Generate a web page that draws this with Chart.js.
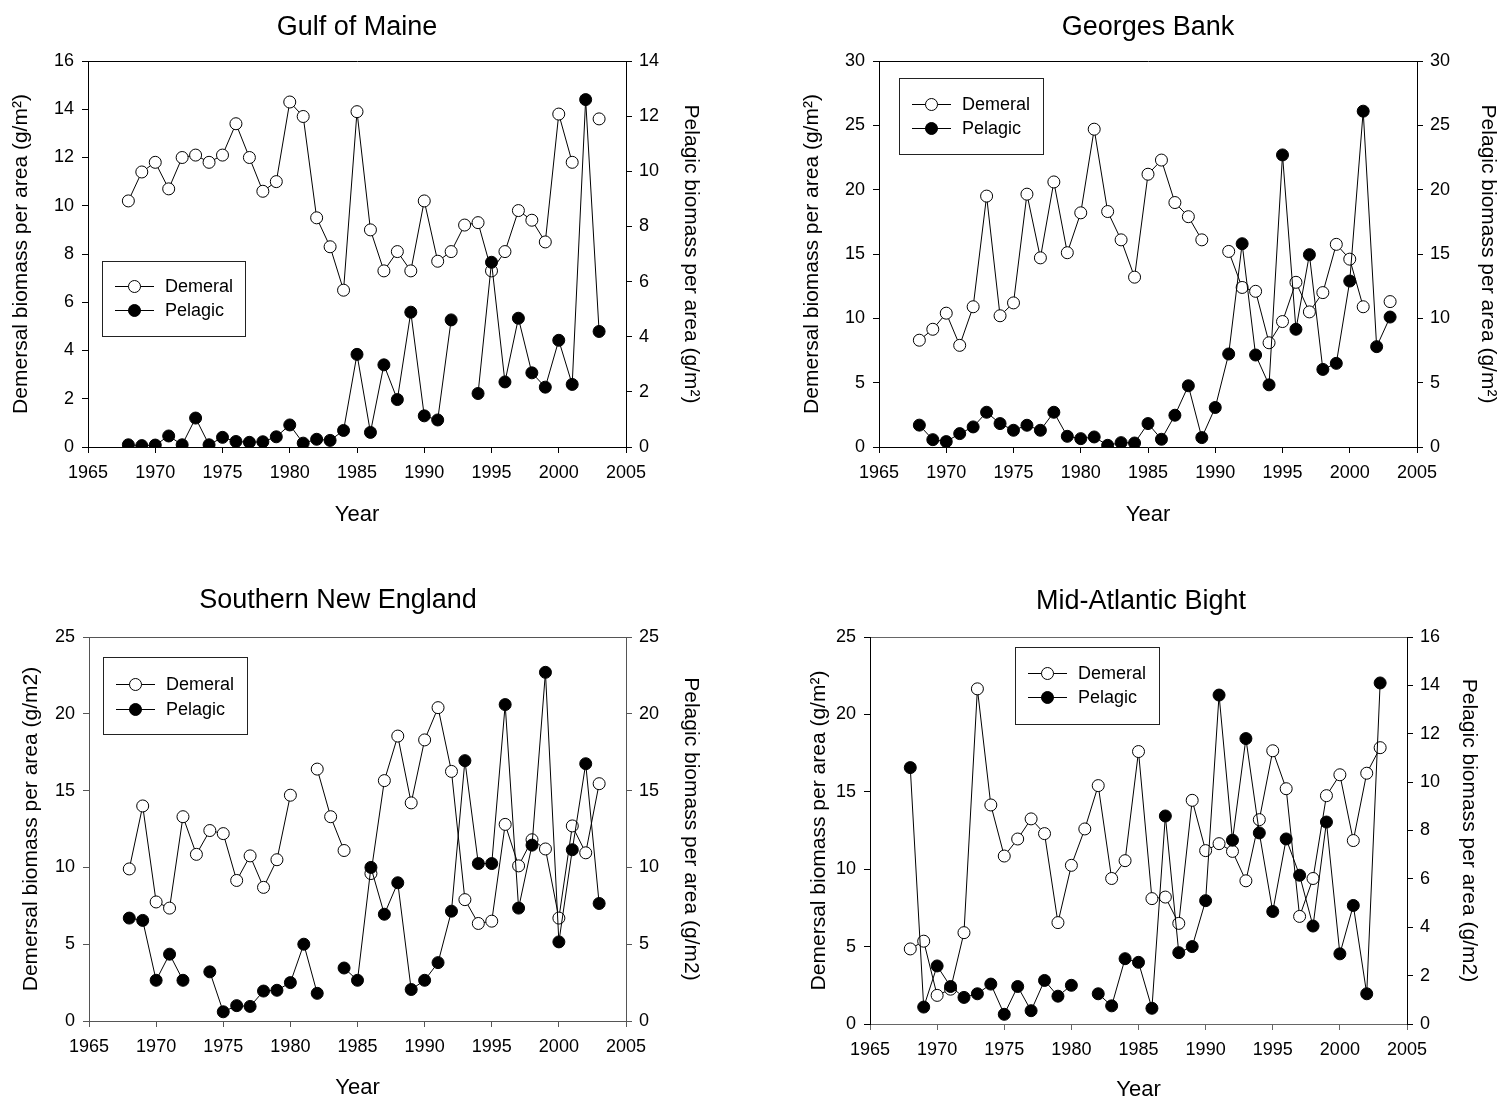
<!DOCTYPE html>
<html>
<head>
<meta charset="utf-8">
<title>Demersal and pelagic biomass</title>
<script src="https://cdn.jsdelivr.net/npm/chart.js@4.4.0/dist/chart.umd.min.js"></script>
<style>
  body { margin: 0; background: #fff; }
  #wrap { position: relative; width: 1501px; height: 1104px; overflow: hidden; }
  .panel { position: absolute; width: 750px; height: 552px; }
</style>
</head>
<body>
<div id="wrap">
  <div class="panel" style="left:0;top:0"><canvas id="gulfChart" width="750" height="552"></canvas></div>
  <div class="panel" style="left:751px;top:0"><canvas id="georgesChart" width="750" height="552"></canvas></div>
  <div class="panel" style="left:0;top:552px"><canvas id="sneChart" width="750" height="552"></canvas></div>
  <div class="panel" style="left:751px;top:552px"><canvas id="mabChart" width="750" height="552"></canvas></div>
</div>
<script>
// survey years, one value per year in every series (null = no survey point)
const years = [1968, 1969, 1970, 1971, 1972, 1973, 1974, 1975, 1976, 1977, 1978, 1979,
  1980, 1981, 1982, 1983, 1984, 1985, 1986, 1987, 1988, 1989, 1990, 1991,
  1992, 1993, 1994, 1995, 1996, 1997, 1998, 1999, 2000, 2001, 2002, 2003];

// Gulf of Maine
const gulfDemersal = [10.2, 11.4, 11.8, 10.7, 12.0, 12.1, 11.8, 12.1, 13.4, 12.0, 10.6, 11.0,
  14.3, 13.7, 9.5, 8.3, 6.5, 13.9, 9.0, 7.3, 8.1, 7.3, 10.2, 7.7,
  8.1, 9.2, 9.3, 7.3, 8.1, 9.8, 9.4, 8.5, 13.8, 11.8, null, 13.6];
const gulfPelagic = [0.08, 0.05, 0.07, 0.4, 0.08, 1.05, 0.08, 0.35, 0.2, 0.17, 0.19, 0.37,
  0.8, 0.14, 0.28, 0.24, 0.6, 3.36, 0.53, 2.98, 1.72, 4.89, 1.13, 0.98,
  4.61, null, 1.94, 6.7, 2.36, 4.67, 2.69, 2.17, 3.87, 2.27, 12.6, 4.19];

// Georges Bank
const georgesDemersal = [8.3, 9.15, 10.4, 7.9, 10.9, 19.5, 10.2, 11.2, 19.65, 14.7, 20.6, 15.1,
  18.2, 24.7, 18.3, 16.1, 13.2, 21.2, 22.3, 19.0, 17.9, 16.1, null, 15.2,
  12.4, 12.1, 8.1, 9.75, 12.8, 10.5, 12.0, 15.75, 14.6, 10.9, null, 11.3];
const georgesPelagic = [1.7, 0.57, 0.42, 1.04, 1.56, 2.7, 1.82, 1.3, 1.69, 1.3, 2.7, 0.83,
  0.65, 0.78, 0.13, 0.34, 0.31, 1.82, 0.6, 2.47, 4.76, 0.73, 3.07, 7.23,
  15.8, 7.15, 4.83, 22.7, 9.15, 14.95, 6.03, 6.5, 12.9, 26.1, 7.8, 10.1];

// Southern New England
const sneDemersal = [9.9, 14.0, 7.75, 7.35, 13.3, 10.85, 12.4, 12.2, 9.15, 10.75, 8.7, 10.5,
  14.7, null, 16.4, 13.3, 11.1, null, 9.6, 15.65, 18.55, 14.2, 18.3, 20.4,
  16.25, 7.9, 6.35, 6.5, 12.8, 10.1, 11.8, 11.2, 6.7, 12.7, 10.95, 15.45];
const snePelagic = [6.7, 6.55, 2.65, 4.35, 2.65, null, 3.2, 0.6, 1.0, 0.95, 1.95, 2.0,
  2.5, 5.0, 1.8, null, 3.45, 2.65, 10.0, 6.95, 9.0, 2.05, 2.65, 3.8,
  7.15, 16.95, 10.25, 10.25, 20.6, 7.35, 11.45, 22.7, 5.15, 11.15, 16.75, 7.65];

// Mid-Atlantic Bight
const mabDemersal = [4.85, 5.35, 1.85, 2.25, 5.9, 21.65, 14.15, 10.85, 11.95, 13.25, 12.3, 6.55,
  10.25, 12.6, 15.4, 9.4, 10.55, 17.6, 8.1, 8.2, 6.5, 14.45, 11.2, 11.65,
  11.15, 9.25, 13.2, 17.65, 15.2, 6.95, 9.4, 14.75, 16.1, 11.85, 16.2, 17.85];
const mabPelagic = [10.6, 0.7, 2.4, 1.55, 1.1, 1.25, 1.65, 0.4, 1.55, 0.55, 1.8, 1.15,
  1.6, null, 1.25, 0.75, 2.7, 2.55, 0.65, 8.6, 2.95, 3.2, 5.1, 13.6,
  7.6, 11.8, 7.9, 4.65, 7.65, 6.15, 4.05, 8.35, 2.9, 4.9, 1.25, 14.1];

const seriesLabels = ["Demeral", "Pelagic"];
const xTicks = [1965, 1970, 1975, 1980, 1985, 1990, 1995, 2000, 2005];

const FONT = "'Liberation Sans', Arial, Helvetica, sans-serif";
Chart.defaults.font.family = FONT;
Chart.defaults.color = "#000";

function toPoints(vals) {
  return years.map((yr, i) => ({ x: yr, y: vals[i] }));
}

// panel title, drawn at a fixed spot above the plot
const titlePlugin = {
  id: "panelTitle",
  afterDraw(chart, args, opts) {
    const ctx = chart.ctx;
    ctx.save();
    ctx.font = `${opts.size}px ${FONT}`;
    ctx.fillStyle = "#000";
    ctx.textAlign = "center";
    ctx.textBaseline = "middle";
    ctx.fillText(opts.text, opts.x, opts.y);
    ctx.restore();
  }
};

// boxed legend inside the plot, built from the datasets
const legendBoxPlugin = {
  id: "legendBox",
  afterDraw(chart, args, opts) {
    const ctx = chart.ctx;
    const { x, y, w, h } = opts;
    ctx.save();
    ctx.fillStyle = "#fff";
    ctx.fillRect(x, y, w, h);
    ctx.strokeStyle = "#222";
    ctx.lineWidth = 1;
    ctx.strokeRect(x + 0.5, y + 0.5, w, h);
    ctx.font = `18px ${FONT}`;
    ctx.textBaseline = "middle";
    ctx.textAlign = "left";
    chart.data.datasets.forEach((ds, i) => {
      const ry = y + opts.rows[i];
      const lx = x + 13;
      ctx.strokeStyle = ds.borderColor;
      ctx.lineWidth = 1;
      ctx.beginPath();
      ctx.moveTo(lx, ry + 0.5);
      ctx.lineTo(lx + 39, ry + 0.5);
      ctx.stroke();
      ctx.beginPath();
      ctx.arc(lx + 19.5, ry + 0.5, ds.pointRadius, 0, Math.PI * 2);
      ctx.fillStyle = ds.pointBackgroundColor;
      ctx.fill();
      ctx.strokeStyle = ds.pointBorderColor;
      ctx.stroke();
      ctx.fillStyle = "#000";
      ctx.fillText(ds.label, x + 63, ry + 1);
    });
    ctx.restore();
  }
};

const panels = [
  {
    id: "gulfChart", title: "Gulf of Maine", titleX: 357, titleY: 28,
    demersal: gulfDemersal, pelagic: gulfPelagic,
    left: 88, right: 626, top: 61, bottom: 447,
    yMax: 16, yStep: 2, y1Max: 14, y1Step: 2,
    yTitle: "Demersal biomass per area (g/m\u00B2)", y1Title: "Pelagic biomass per area (g/m\u00B2)",
    yTitlePad: 9, y1TitlePad: 47, xTitlePad: 24,
    legend: { x: 102, y: 261, w: 143, h: 75, rows: [25, 49] },
    frame: "#000", xFrame: "#000"
  },
  {
    id: "georgesChart", title: "Georges Bank", titleX: 397, titleY: 28,
    demersal: georgesDemersal, pelagic: georgesPelagic,
    left: 128, right: 666, top: 61, bottom: 447,
    yMax: 30, yStep: 5, y1Max: 30, y1Step: 5,
    yTitle: "Demersal biomass per area (g/m\u00B2)", y1Title: "Pelagic biomass per area (g/m\u00B2)",
    yTitlePad: 49, y1TitlePad: 1, xTitlePad: 24,
    legend: { x: 148, y: 78, w: 144, h: 76, rows: [26, 50] },
    frame: "#000", xFrame: "#000"
  },
  {
    id: "sneChart", title: "Southern New England", titleX: 338, titleY: 49,
    demersal: sneDemersal, pelagic: snePelagic,
    left: 89, right: 626, top: 85, bottom: 469,
    yMax: 25, yStep: 5, y1Max: 25, y1Step: 5,
    yTitle: "Demersal biomass per area (g/m2)", y1Title: "Pelagic biomass per area (g/m2)",
    yTitlePad: 19, y1TitlePad: 47, xTitlePad: 3,
    legend: { x: 103, y: 105, w: 144, h: 77, rows: [27, 52] },
    frame: "#555", xFrame: "#555"
  },
  {
    id: "mabChart", title: "Mid-Atlantic Bight", titleX: 390, titleY: 50,
    demersal: mabDemersal, pelagic: mabPelagic,
    left: 119, right: 656, top: 85, bottom: 472,
    yMax: 25, yStep: 5, y1Max: 16, y1Step: 2,
    yTitle: "Demersal biomass per area (g/m\u00B2)", y1Title: "Pelagic biomass per area (g/m2)",
    yTitlePad: 56, y1TitlePad: 20, xTitlePad: 1,
    legend: { x: 264, y: 95, w: 144, h: 77, rows: [26, 50] },
    frame: "#000", xFrame: "#666"
  }
];

function axisGrid(color) {
  return { display: true, drawOnChartArea: false, drawTicks: true, tickLength: 6, color: color, lineWidth: 1 };
}

function renderPanel(p) {
  const canvas = document.getElementById(p.id);
  const W = canvas.width;
  const H = canvas.height;
  return new Chart(canvas, {
    type: "line",
    data: {
      datasets: [
        {
          label: seriesLabels[0],
          data: toPoints(p.demersal),
          yAxisID: "y",
          order: 1,
          borderColor: "#000",
          borderWidth: 1,
          pointRadius: 6,
          pointBorderWidth: 1,
          pointBackgroundColor: "#fff",
          pointBorderColor: "#000",
          spanGaps: false,
          tension: 0
        },
        {
          label: seriesLabels[1],
          data: toPoints(p.pelagic),
          yAxisID: "y1",
          order: 0,
          borderColor: "#000",
          borderWidth: 1,
          pointRadius: 6,
          pointBorderWidth: 1,
          pointBackgroundColor: "#000",
          pointBorderColor: "#000",
          spanGaps: false,
          tension: 0
        }
      ]
    },
    options: {
      responsive: false,
      animation: false,
      events: [],
      layout: { padding: { top: p.top, left: 0, right: 0, bottom: 0 } },
      plugins: {
        legend: { display: false },
        tooltip: { enabled: false },
        panelTitle: { text: p.title, x: p.titleX, y: p.titleY, size: 27 },
        legendBox: p.legend
      },
      scales: {
        x: {
          type: "linear",
          position: "bottom",
          min: 1965,
          max: 2005,
          afterBuildTicks: (s) => { s.ticks = xTicks.map((v) => ({ value: v })); },
          afterFit: (s) => { s.height = H - p.bottom; },
          ticks: { font: { size: 18 }, padding: 9, maxRotation: 0, autoSkip: false, callback: (v) => String(v) },
          grid: axisGrid(p.xFrame),
          border: { display: true, color: p.xFrame, width: 1 },
          title: { display: true, text: "Year", font: { size: 22 }, padding: { top: 0, bottom: p.xTitlePad } }
        },
        xTop: {
          type: "linear",
          position: "top",
          min: 1965,
          max: 2005,
          afterFit: (s) => { s.height = 0; },
          ticks: { display: false },
          grid: { display: true, drawOnChartArea: false, drawTicks: false },
          border: { display: true, color: p.xFrame, width: 1 }
        },
        y: {
          position: "left",
          min: 0,
          max: p.yMax,
          afterFit: (s) => { s.width = p.left; },
          ticks: { stepSize: p.yStep, font: { size: 18 }, padding: 8 },
          grid: axisGrid(p.frame === "#555" ? "#555" : "#000"),
          border: { display: true, color: p.frame, width: 1 },
          title: { display: true, text: p.yTitle, font: { size: 21 }, padding: { top: p.yTitlePad, bottom: 0 } }
        },
        y1: {
          position: "right",
          min: 0,
          max: p.y1Max,
          afterFit: (s) => { s.width = W - p.right; },
          ticks: { stepSize: p.y1Step, font: { size: 18 }, padding: 7 },
          grid: axisGrid(p.frame),
          border: { display: true, color: p.frame, width: 1 },
          title: { display: true, text: p.y1Title, font: { size: 21 }, padding: { top: p.y1TitlePad, bottom: 0 } }
        }
      }
    },
    plugins: [titlePlugin, legendBoxPlugin]
  });
}

panels.forEach(renderPanel);
</script>
</body>
</html>
